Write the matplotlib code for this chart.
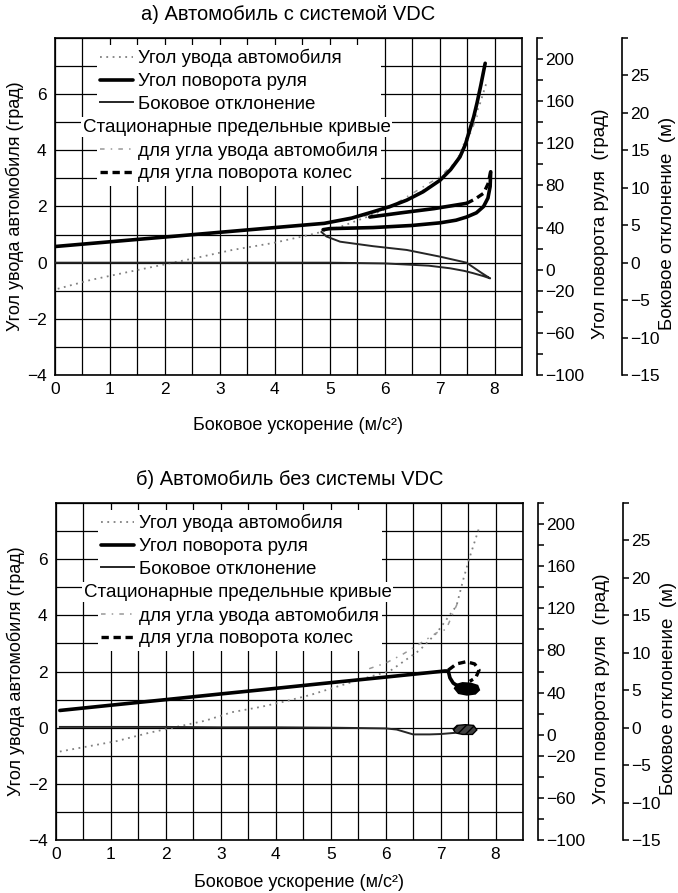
import matplotlib
matplotlib.use("Agg")
import matplotlib.pyplot as plt
from matplotlib.lines import Line2D
from matplotlib.ticker import MultipleLocator

plt.rcParams['font.family'] = ['Liberation Sans', 'DejaVu Sans']

W, H = 678, 893
FS = 13
LEG_FS = 13.5
TICK_FS = 12.5

# ---------------- axes ticks and texts ----------------
x_ticks = [0, 1, 2, 3, 4, 5, 6, 7, 8]
y_ticks = [-4, -2, 0, 2, 4, 6]
steer_ticks = [200, 160, 120, 80, 40, 0, -20, -60, -100]
steer_minor = [220, 180, 140, 100, 60, 20, -40, -80]
lat_ticks = [25, 20, 15, 10, 5, 0, -5, -10, -15]
lat_minor = [30]

titles = ["а) Автомобиль с системой VDC", "б) Автомобиль без системы VDC"]
xlabel = "Боковое ускорение (м/с²)"
ylabel_slip = "Угол увода автомобиля (град)"
ylabel_steer = "Угол поворота руля  (град)"
ylabel_lat = "Боковое отклонение  (м)"
legend_labels = ["Угол увода автомобиля", "Угол поворота руля",
                 "Боковое отклонение", " ",
                 "для угла увода автомобиля", "для угла поворота колес"]
legend_header = "Стационарные предельные кривые"

# ---------------- a) with VDC ----------------
# side slip angle, deg
a_slip_x = [0.05, 0.64, 1.24, 1.9, 2.64, 3.22, 3.97, 4.70, 5.20, 5.68, 6.41, 7.01, 7.32, 7.55, 7.74, 7.86]
a_slip_y = [-0.93, -0.62, -0.37, -0.1, 0.20, 0.45, 0.70, 1.02, 1.28, 1.63, 2.23, 2.94, 3.66, 4.72, 5.69, 6.45]
# steering wheel angle, deg
a_steer_x = [0.0, 1.0, 2.0, 3.0, 4.0, 4.9, 5.4, 5.79, 6.1, 6.4, 6.7, 7.01, 7.2, 7.37, 7.47, 7.55, 7.62, 7.68, 7.75, 7.83]
a_steer_y = [22, 26.5, 31, 35.5, 40, 44, 49, 55, 60, 66, 74, 85, 95, 107, 119, 133, 145, 158, 175, 196]
a_steer_loop_x = [4.88, 5.0, 5.79, 6.5, 7.01, 7.3, 7.49, 7.67, 7.80, 7.88, 7.92, 7.93]
a_steer_loop_y = [38, 39, 40, 42, 44.5, 47, 50, 54, 60, 68, 79, 93]
a_steer_mid_x = [5.73, 6.3, 6.9, 7.49]
a_steer_mid_y = [50, 54, 58, 63]
# lateral deviation, m
a_lat_x = [0, 1, 2, 3, 4, 5, 6, 6.8, 7.19, 7.45, 7.61, 7.8, 7.92, 7.75, 7.49, 7.01, 6.40, 5.79, 5.19, 4.94, 4.85]
a_lat_y = [0, 0, 0, 0, 0, 0, -0.1, -0.4, -0.75, -1.1, -1.4, -1.8, -2.1, -1.3, 0, 0.8, 1.7, 2.2, 2.8, 3.5, 4.1]
# steady-state limit curves
a_slip_lim_x = [5.3, 5.7, 6.2, 6.7, 7.0, 7.3, 7.5, 7.7]
a_slip_lim_y = [1.5, 1.7, 2.1, 2.7, 3.05, 3.6, 4.3, 5.3]
a_wheel_lim_x = [7.49, 7.65, 7.80, 7.88, 7.93]
a_wheel_lim_y = [2.11, 2.27, 2.47, 2.8, 3.24]

# ---------------- b) without VDC ----------------
b_slip_x = [0.07, 0.6, 1.1, 1.7, 2.2, 2.72, 3.2, 3.73, 4.2, 4.64, 5.13, 5.6, 6.08, 6.62, 6.93, 7.29, 7.42, 7.53, 7.71]
b_slip_y = [-0.85, -0.66, -0.48, -0.18, 0.03, 0.25, 0.55, 0.74, 0.95, 1.17, 1.47, 1.75, 2.02, 2.76, 3.38, 4.34, 5.33, 6.07, 7.17]
b_steer_x = [0.07, 1, 2, 3, 4, 5, 6, 7.08, 7.14, 7.17, 7.23, 7.32]
b_steer_y = [23, 28, 33.3, 38.7, 44, 49.4, 54.7, 60.5, 60.5, 54, 49, 46]
b_steer_blob_x = [7.26, 7.30, 7.40, 7.55, 7.67, 7.70, 7.63, 7.48, 7.33]
b_steer_blob_y = [44, 47.5, 49, 48.5, 46.5, 42.5, 39, 38, 39.5]
b_lat_x = [0.07, 1, 2, 3, 4, 5, 6.0, 6.2, 6.5, 6.8, 7.0, 7.25]
b_lat_y = [0.1, 0.1, 0.1, 0.05, 0.05, 0.0, -0.1, -0.25, -0.9, -0.9, -0.85, -0.7]
b_lat_blob_x = [7.23, 7.30, 7.45, 7.60, 7.66, 7.58, 7.40, 7.27]
b_lat_blob_y = [-0.2, 0.3, 0.4, 0.3, -0.3, -0.9, -0.9, -0.7]
b_slip_lim_x = [5.7, 6.0, 6.3, 6.63, 6.93, 7.1, 7.3]
b_slip_lim_y = [2.1, 2.3, 2.6, 3.0, 3.38, 3.5, 4.4]
b_wheel_lim_x = [7.14, 7.29, 7.47, 7.62, 7.70, 7.64, 7.53]
b_wheel_lim_y = [2.05, 2.27, 2.35, 2.27, 2.05, 1.78, 1.65]

# ---------------- line styles ----------------
SLIP = dict(color='0.5', lw=1.3, ls=(0, (1, 2.5)))
STEER = dict(color='k', lw=2.6, solid_capstyle='round', solid_joinstyle='round')
LAT = dict(color='0.15', lw=1.4)
SLIP_LIM = dict(color='0.6', lw=1.1, ls=(0, (3, 4, 1, 4)))
WHEEL_LIM = dict(color='k', lw=2.4, ls=(0, (2.2, 1.4)))

fig = plt.figure(figsize=(W / 100, H / 100), dpi=100)


def px_rect(left, top, right, bottom):
    return [left / W, 1 - bottom / H, (right - left) / W, (bottom - top) / H]


def make_panel(rect, title, xlab_y):
    ax = fig.add_axes(rect)
    ax.set_xlim(0, 8.5)
    ax.set_ylim(-4, 8)
    ax.set_xticks(x_ticks)
    ax.set_yticks(y_ticks)
    ax.xaxis.set_minor_locator(MultipleLocator(0.5))
    ax.yaxis.set_minor_locator(MultipleLocator(1))
    ax.grid(which='both', color='k', lw=0.9)
    ax.tick_params(which='both', length=0, labelsize=TICK_FS)
    ax.tick_params(axis='x', pad=5)
    ax.tick_params(axis='y', pad=6)
    for s in ax.spines.values():
        s.set_linewidth(1.2)
    ax.set_title(title, fontsize=14.5, pad=13)
    ax.set_xlabel(xlabel, fontsize=FS)
    ax.xaxis.set_label_coords(0.52, xlab_y)
    ax.set_ylabel(ylabel_slip, fontsize=FS)
    ax.yaxis.set_label_coords(-0.066, 0.5)

    axs = ax.twinx()
    axs.set_ylim(-100, 220)
    axl = ax.twinx()
    axl.set_ylim(-15, 30)
    for a, off, major, minor, lab, lx in ((axs, 10.8, steer_ticks, steer_minor, ylabel_steer, 1.149),
                                          (axl, 72, lat_ticks, lat_minor, ylabel_lat, 1.294)):
        a.spines['right'].set_position(('outward', off))
        a.spines['right'].set_linewidth(1.2)
        for s in ('left', 'top', 'bottom'):
            a.spines[s].set_visible(False)
        a.set_yticks(major)
        a.set_yticks(minor, minor=True)
        a.tick_params(which='both', direction='out', length=4, width=1.1,
                      labelsize=TICK_FS, pad=2)
        a.set_ylabel(lab, fontsize=13.5)
        a.yaxis.set_label_coords(lx, 0.45)
    return ax, axs, axl


def add_legend(ax, top_frac):
    handles = [Line2D([], [], **SLIP), Line2D([], [], **STEER), Line2D([], [], **LAT),
               Line2D([], [], linestyle='none'), Line2D([], [], **SLIP_LIM),
               Line2D([], [], **WHEEL_LIM)]
    leg = ax.legend(handles, legend_labels, loc='upper left',
                    bbox_to_anchor=(0.0889, top_frac), borderaxespad=0,
                    borderpad=0.2, fontsize=LEG_FS, handlelength=1.75,
                    handletextpad=0.25, labelspacing=0.3, frameon=True,
                    fancybox=False, framealpha=1, facecolor='white',
                    edgecolor='none')
    leg.set_zorder(1.8)
    return leg


# panel a
ax, axs, axl = make_panel(px_rect(55, 38, 522, 375), titles[0], -0.125)
ax.plot(a_slip_x, a_slip_y, **SLIP)
ax.plot(a_slip_lim_x, a_slip_lim_y, **SLIP_LIM)
ax.plot(a_wheel_lim_x, a_wheel_lim_y, **WHEEL_LIM)
axs.plot(a_steer_x, a_steer_y, **STEER)
axs.plot(a_steer_loop_x, a_steer_loop_y, **STEER)
axs.plot(a_steer_mid_x, a_steer_mid_y, **STEER)
axl.plot(a_lat_x, a_lat_y, **LAT)
leg_a = add_legend(ax, 0.978)

# panel b
bx, bxs, bxl = make_panel(px_rect(56, 503, 523, 840), titles[1], -0.101)
bx.plot(b_slip_x, b_slip_y, **SLIP)
bx.plot(b_slip_lim_x, b_slip_lim_y, **SLIP_LIM)
bx.plot(b_wheel_lim_x, b_wheel_lim_y, **WHEEL_LIM)
bxs.plot(b_steer_x, b_steer_y, **STEER)
bxs.fill(b_steer_blob_x, b_steer_blob_y, color='k', lw=1.5)
bxl.plot(b_lat_x, b_lat_y, **LAT)
bxl.fill(b_lat_blob_x, b_lat_blob_y, facecolor='0.25', edgecolor='k', lw=1, hatch='////')
leg_b = add_legend(bx, 0.978)

# group header of the legend, set to the left of the entry texts
fig.canvas.draw()
for a, leg in ((ax, leg_a), (bx, leg_b)):
    row = leg.get_texts()[3].get_window_extent()
    first = leg.get_texts()[0].get_window_extent()
    a.annotate(legend_header, xy=(first.x0 - 55, row.y0), xycoords='figure pixels',
               ha='left', va='bottom', fontsize=LEG_FS, zorder=1.9,
               bbox=dict(facecolor='white', edgecolor='none', pad=1))

fig.savefig("out.png", dpi=100)
